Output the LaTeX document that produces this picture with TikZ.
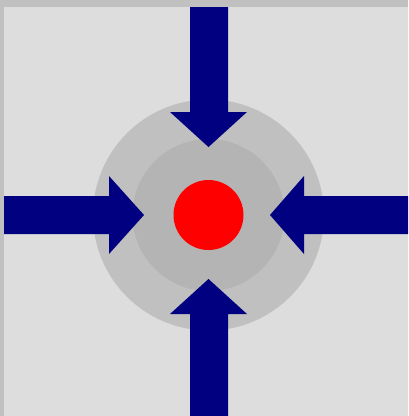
\documentclass[tikz,border=0pt]{standalone}
\begin{document}
\begin{tikzpicture}[x=1pt,y=-1pt,
  arrowfill/.style={fill={rgb,255:red,0;green,0;blue,128}, draw=none}]
\definecolor{strip}{RGB}{192,192,192}
\definecolor{bg}{RGB}{221,221,221}
\definecolor{outerc}{RGB}{192,192,192}
\definecolor{innerc}{RGB}{180,180,180}
\useasboundingbox (0,0) rectangle (408,416);
\fill[strip] (0,0) rectangle (408,416);
\fill[bg] (4,7) rectangle (408,416);
\coordinate (c) at (208.5,215);
\fill[outerc] (c) circle[radius=115.5];
\fill[innerc] (c) circle[radius=76];
\fill[red] (c) circle[radius=35];
% top arrow
\fill[arrowfill] (190,7) -- (228,7) -- (228,112) -- (247,112) -- (208.5,147) -- (170,112) -- (190,112) -- cycle;
% bottom arrow
\fill[arrowfill] (190,416) -- (228,416) -- (228,314) -- (247,314) -- (208.5,279) -- (170,314) -- (190,314) -- cycle;
% left arrow
\fill[arrowfill] (4,196) -- (109,196) -- (109,176) -- (144,215) -- (109,254) -- (109,234) -- (4,234) -- cycle;
% right arrow
\fill[arrowfill] (408,196) -- (304,196) -- (304,176) -- (270,215) -- (304,254) -- (304,234) -- (408,234) -- cycle;
\end{tikzpicture}
\end{document}
